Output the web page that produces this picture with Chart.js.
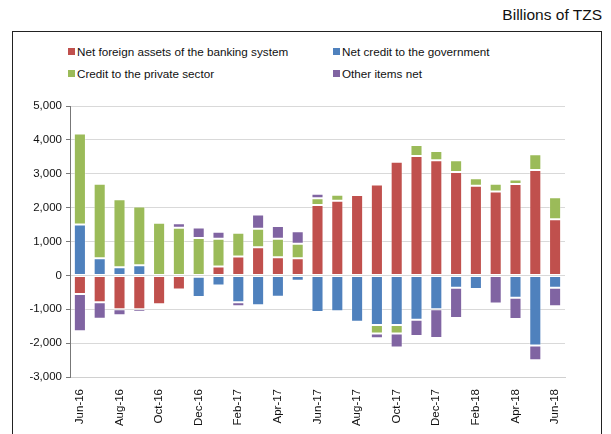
<!DOCTYPE html>
<html>
<head>
<meta charset="utf-8">
<script src="https://cdn.jsdelivr.net/npm/chart.js@4.4.0/dist/chart.umd.min.js"></script>
<style>
  html, body { margin: 0; padding: 0; background: #fff; }
  body { width: 611px; height: 434px; position: relative; overflow: hidden; font-family: "Liberation Sans", Arial, sans-serif; }
  #frame { position: absolute; left: 12px; top: 31px; width: 590px; height: 420px; border: 1px solid #222; box-sizing: border-box; }
  #title { position: absolute; right: 9px; top: 6px; font-size: 15.5px; color: #111; }
  .lg { position: absolute; font-size: 11.7px; color: #111; white-space: nowrap; line-height: 14px; }
  .sw { display: inline-block; width: 7px; height: 7px; margin-right: 2px; vertical-align: 1px; }
  #wrap { position: absolute; left: 0; top: 0; width: 611px; height: 434px; }
</style>
</head>
<body>
<div id="frame"></div>
<div id="title">Billions of TZS</div>
<div id="legend"></div>
<div id="wrap"><canvas id="c" width="611" height="434"></canvas></div>
<script>
const categories = ["Jun-16","Jul-16","Aug-16","Sep-16","Oct-16","Nov-16","Dec-16","Jan-17","Feb-17","Mar-17","Apr-17","May-17","Jun-17","Jul-17","Aug-17","Sep-17","Oct-17","Nov-17","Dec-17","Jan-18","Feb-18","Mar-18","Apr-18","May-18","Jun-18"];
const netForeignAssets = [-550,-790,-1000,-1000,-850,-415,-40,260,555,830,535,505,2080,2200,2375,2683,3356,3525,3400,3050,2645,2475,2700,3110,1655];
const netCreditGovernment = [1505,505,240,300,0,0,-600,-300,-790,-880,-630,-160,-1080,-1060,-1366,-1465,-1465,-1307,-1000,-366,-405,0,-663,-2070,-366];
const creditPrivateSector = [2680,2200,2010,1730,1550,1406,1100,820,700,545,545,425,200,180,20,-250,-250,325,275,345,225,230,130,465,650];
const otherItemsNet = [-1100,-490,-180,-80,-60,130,310,210,-120,425,375,375,130,-60,-60,-140,-415,-485,-850,-890,30,-830,-625,-435,-545];
const seriesNames = ["Net foreign assets of the banking system","Net credit to the government","Credit to the private sector","Other items net"];
const seriesColors = ["#C0504D","#4F81BD","#9BBB59","#8064A2"];
const yTicks = [-3000,-2000,-1000,0,1000,2000,3000,4000,5000];

// HTML legend (2 x 2 grid)
const legendPos = [[68,45],[333,45],[68,67],[333,67]];
const lg = document.getElementById('legend');
seriesNames.forEach((n,i)=>{
  const d = document.createElement('div');
  d.className = 'lg';
  d.style.left = legendPos[i][0] + 'px';
  d.style.top = legendPos[i][1] + 'px';
  d.innerHTML = '<span class="sw" style="background:' + seriesColors[i] + '"></span>' + n;
  lg.appendChild(d);
});

const values = [netForeignAssets, netCreditGovernment, creditPrivateSector, otherItemsNet];
const datasets = values.map((v,i)=>({
  label: seriesNames[i],
  data: v,
  backgroundColor: seriesColors[i],
  borderColor: 'rgba(255,255,255,0.35)',
  borderWidth: 1,
  borderSkipped: false,
  barPercentage: 0.61,
  categoryPercentage: 1.0
}));

new Chart(document.getElementById('c'), {
  type: 'bar',
  data: { labels: categories, datasets },
  options: {
    responsive: false,
    animation: false,
    layout: { padding: { left: 12, top: 106, right: 46, bottom: 0 } },
    plugins: { legend: { display: false }, tooltip: { enabled: false } },
    scales: {
      x: {
        stacked: true,
        grid: { display: false },
        border: { display: true, color: '#d0d0d0' },
        ticks: {
          autoSkip: false, maxRotation: 90, minRotation: 90,
          font: { family: '"Liberation Sans", Arial, sans-serif', size: 11.5 },
          color: '#111', padding: 4,
          callback: function(val, idx) { return idx % 2 === 0 ? categories[idx] : ''; }
        },
        afterFit: s => { s.height = 57; }
      },
      y: {
        stacked: true,
        min: -3000, max: 5000,
        afterBuildTicks: s => { s.ticks = yTicks.map(v => ({ value: v })); },
        grid: { color: '#d9d9d9', lineWidth: 1, tickLength: 4, tickColor: '#777' },
        border: { display: true, color: '#777', width: 1 },
        ticks: {
          font: { family: '"Liberation Sans", Arial, sans-serif', size: 11.5 },
          color: '#111', padding: 4,
          callback: v => v.toLocaleString('en-US')
        },
        afterFit: s => { s.width = 58; }
      }
    }
  }
});
</script>
</body>
</html>
